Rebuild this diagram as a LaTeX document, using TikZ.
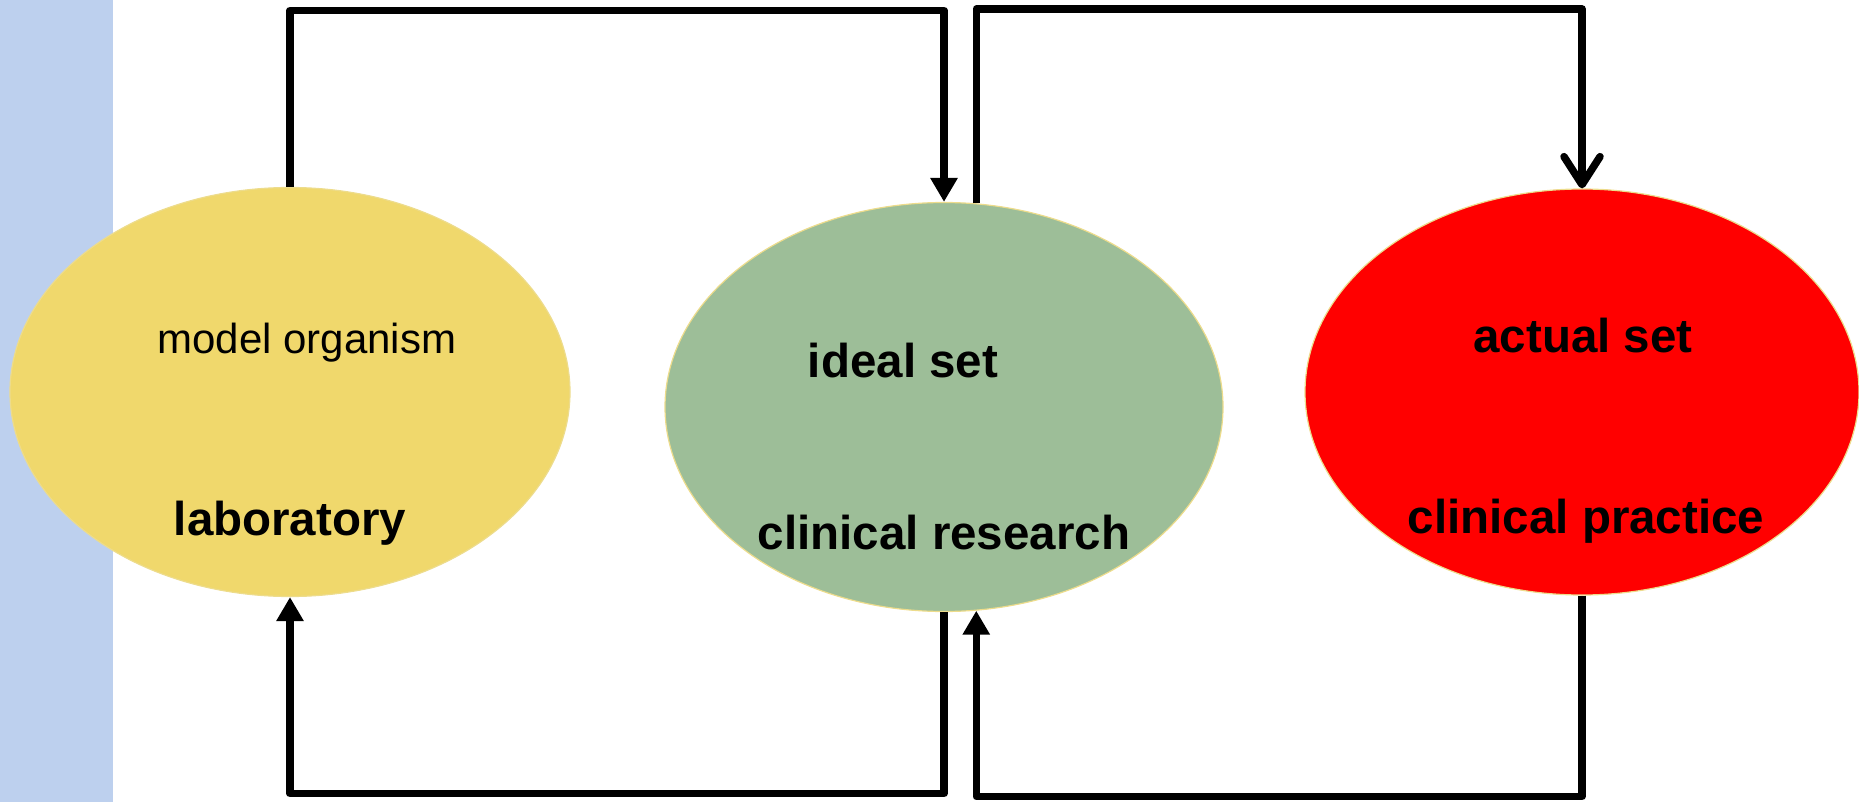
\documentclass[tikz,border=0pt]{standalone}
\usepackage{fontspec}
\setmainfont{Liberation Sans}
\usetikzlibrary{shapes.geometric,arrows.meta,calc}
\definecolor{stripblue}{HTML}{BDD0EE}
\definecolor{labyellow}{HTML}{F0D86C}
\definecolor{resgreen}{HTML}{9DBE98}
\definecolor{rimyellow}{HTML}{EDDC8C}
\definecolor{pracred}{HTML}{FF0000}
\begin{document}
\begin{tikzpicture}[x=1pt,y=-1pt,
  blob/.style={ellipse, inner sep=0pt, draw=rimyellow, line width=1.2pt},
  regtxt/.style={anchor=base, inner sep=0pt, font=\fontsize{42}{50}\selectfont},
  boldtxt/.style={anchor=base, inner sep=0pt, font=\fontsize{47.5}{57}\selectfont\bfseries},
  conn/.style={draw=black, line width=7.5pt, line join=round},
  tri/.style={-{Triangle[width=26pt,length=24pt]}},
  barb/.style={-{Straight Barb[length=28pt,width=36pt,round]}}]
\useasboundingbox (0,0) rectangle (1859,802);
\fill[stripblue] (0,0) rectangle (113,802);
\node[blob, fill=labyellow, minimum width=560pt, minimum height=409pt] (lab) at (290,392) {};
\node[blob, fill=resgreen, minimum width=558pt, minimum height=409pt] (res) at (944,407) {};
\node[blob, fill=pracred, minimum width=554pt, minimum height=406pt] (prac) at (1582,392) {};
\node[regtxt] (mo) at (307,353) {model organism};
\node[boldtxt] (lb) at (290,535) {laboratory};
\node[boldtxt] (is) at (903,377) {ideal set};
\node[boldtxt] (cr) at (944,549) {clinical research};
\node[boldtxt] (as) at (1583,352) {actual set};
\node[boldtxt] (cp) at (1586,533) {clinical practice};
\coordinate (ytl) at (0,10.5);
\coordinate (ytr) at (0,9);
\coordinate (ybl) at (0,793.5);
\coordinate (ybr) at (0,796.5);
\draw[conn,tri] (lab.north) -- (lab.north |- ytl) -| (res.north);
\draw[conn,barb] (res.81) -- (res.81 |- ytr) -| (prac.north);
\draw[conn,tri] (res.south) -- (res.south |- ybl) -| (lab.south);
\draw[conn,tri] (prac.south) -- (prac.south |- ybr) -| (res.-81);
\end{tikzpicture}
\end{document}
